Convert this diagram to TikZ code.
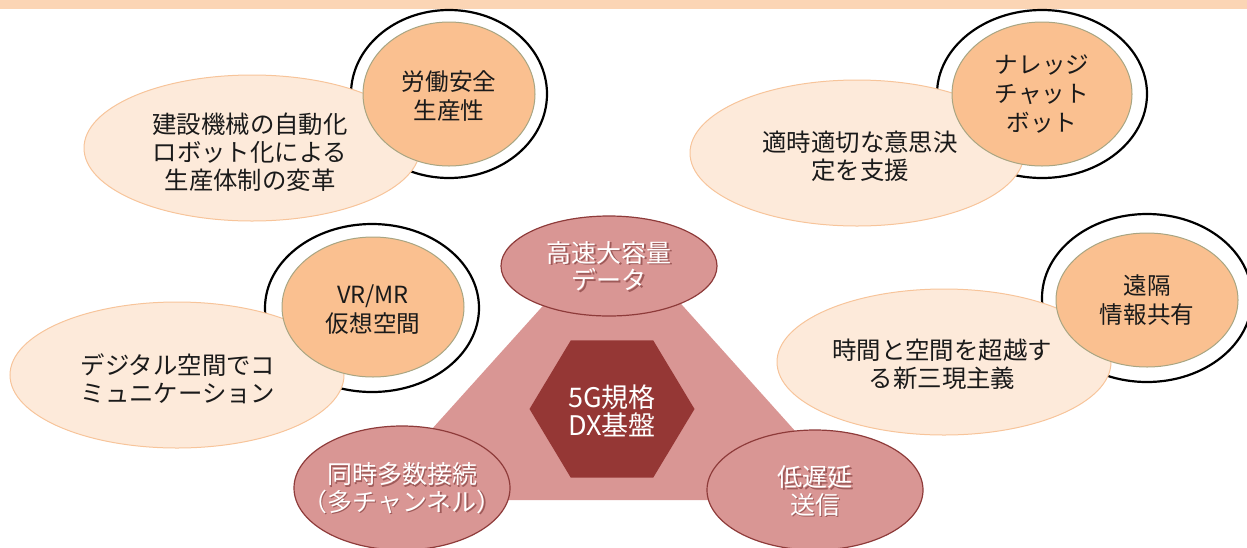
\documentclass[tikz,border=0pt]{standalone}
\usepackage{fontspec}
\setmainfont{Noto Sans CJK JP}
\usetikzlibrary{shapes.geometric}
\definecolor{band}{HTML}{FBD5B5}
\definecolor{lightfill}{HTML}{FDEADA}
\definecolor{lightdraw}{HTML}{F7C49A}
\definecolor{orangefill}{HTML}{FAC090}
\definecolor{orangedraw}{HTML}{A8A582}
\definecolor{pinkfill}{HTML}{D99694}
\definecolor{pinkdraw}{HTML}{8E3B3A}
\definecolor{hexfill}{HTML}{953735}
\definecolor{txt}{HTML}{1A1A1A}
\definecolor{shadowc}{HTML}{6E2A29}
\tikzset{
  ring/.style={ellipse, draw=black, fill=white, line width=1.1pt, inner sep=0pt},
  lightb/.style={ellipse, draw=lightdraw, fill=lightfill, line width=0.5pt, inner sep=0pt},
  orangeb/.style={ellipse, draw=orangedraw, fill=orangefill, line width=0.5pt, inner sep=0pt},
  pinkb/.style={ellipse, draw=pinkdraw, fill=pinkfill, line width=0.6pt, inner sep=0pt},
  blacktext/.style={align=center, text=txt, inner sep=0pt, font=\fontsize{12.2}{14}\selectfont},
  orangetext/.style={align=center, text=txt, inner sep=0pt, font=\fontsize{11.8}{14.5}\selectfont},
  pinktext/.style={align=center, text=white, inner sep=0pt, font=\fontsize{12.5}{13.8}\selectfont},
  pinkshadow/.style={pinktext, text=shadowc, opacity=0.55},
  hextext/.style={align=center, text=white, inner sep=0pt, font=\fontsize{13.5}{14}\selectfont},
}
\begin{document}
\begin{tikzpicture}[x=0.5pt, y=-0.5pt]
\useasboundingbox (0,0) rectangle (1247,547);
\fill[band] (0,0) rectangle (1247,9);

% group 1
\node[ring, minimum width=98pt, minimum height=84pt] (r1) at (449,94) {};
\node[lightb, minimum width=168pt, minimum height=73pt] (l1) at (252,148) {};
\node[orangeb, minimum width=86pt, minimum height=72pt] (o1) at (449,94) {};
\node[blacktext] (lt1) at (250,152) {建設機械の自動化\\ロボット化による\\生産体制の変革};
\node[orangetext] (ot1) at (449,96) {労働安全\\生産性};

% group 2
\node[ring, minimum width=105pt, minimum height=84pt] (r2) at (1042,94) {};
\node[lightb, minimum width=167pt, minimum height=73pt] (l2) at (857,153) {};
\node[orangeb, minimum width=90pt, minimum height=72pt] (o2) at (1042,94) {};
\node[blacktext] (lt2) at (860,156) {適時適切な意思決\\定を支援};
\node[orangetext] (ot2) at (1042,94) {ナレッジ\\チャット\\ボット};

% group 3
\node[ring, minimum width=107pt, minimum height=84pt] (r3) at (372,308) {};
\node[lightb, minimum width=167pt, minimum height=73pt] (l3) at (177,375) {};
\node[orangeb, minimum width=91pt, minimum height=70pt] (o3) at (373,307) {};
\node[blacktext] (lt3) at (178,379) {デジタル空間でコ\\ミュニケーション};
\node[orangetext] (ot3) at (373,310) {VR/MR\\仮想空間};

% group 4
\node[ring, minimum width=105pt, minimum height=84pt] (r4) at (1147,298) {};
\node[lightb, minimum width=167pt, minimum height=73pt] (l4) at (944,362) {};
\node[orangeb, minimum width=91pt, minimum height=67pt] (o4) at (1147,300) {};
\node[blacktext] (lt4) at (942,364) {時間と空間を超越す\\る新三現主義};
\node[orangetext] (ot4) at (1147,300) {遠隔\\情報共有};

% center triangle
\fill[pinkfill] (613,228) -- (368,500) -- (857,500) -- cycle;

% hexagon
\node[regular polygon, regular polygon sides=6, fill=hexfill, inner sep=0pt,
      minimum size=82.5pt, yscale=0.96] (hex) at (612,409) {};
\node[hextext] (hext) at (612,411) {5G規格\\DX基盤};

% pink ellipses
\node[pinkb, minimum width=108pt, minimum height=50pt] (p1) at (609,266) {};
\node[pinkb, minimum width=108pt, minimum height=62pt] (p2) at (402,488) {};
\node[pinkb, minimum width=108pt, minimum height=60pt] (p3) at (815,490) {};

\node[pinkshadow] at ([shift={(1.5,1.5)}]p1.center) {高速大容量\\データ};
\node[pinktext] (pt1) at (p1.center) {高速大容量\\データ};
\node[pinkshadow] at ([shift={(1.5,1.5)}]p2.center) {同時多数接続\\（多チャンネル）};
\node[pinktext] (pt2) at (p2.center) {同時多数接続\\（多チャンネル）};
\node[pinkshadow] at ([shift={(1.5,2.5)}]p3.center) {低遅延\\送信};
\node[pinktext] (pt3) at ([shift={(0,1)}]p3.center) {低遅延\\送信};
\end{tikzpicture}
\end{document}
